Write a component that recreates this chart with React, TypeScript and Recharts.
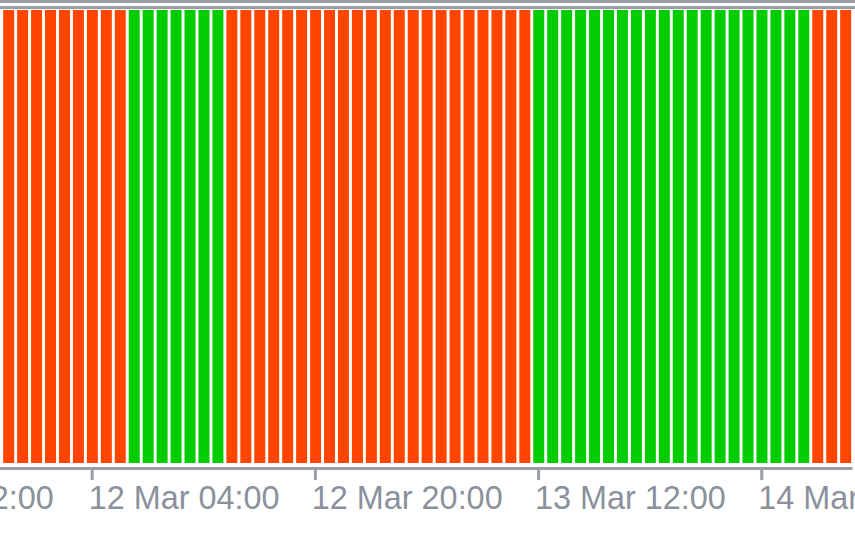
import React from "react";
import { BarChart, Bar, XAxis, YAxis, Cell } from "recharts";

// Hourly categories (the first ten lie left of the visible window; they carry no bar)
const categories = [
  "11 Mar 12:00", "11 Mar 13:00", "11 Mar 14:00", "11 Mar 15:00", "11 Mar 16:00", "11 Mar 17:00",
  "11 Mar 18:00", "11 Mar 19:00", "11 Mar 20:00", "11 Mar 21:00", "11 Mar 22:00", "11 Mar 23:00",
  "12 Mar 00:00", "12 Mar 01:00", "12 Mar 02:00", "12 Mar 03:00", "12 Mar 04:00", "12 Mar 05:00",
  "12 Mar 06:00", "12 Mar 07:00", "12 Mar 08:00", "12 Mar 09:00", "12 Mar 10:00", "12 Mar 11:00",
  "12 Mar 12:00", "12 Mar 13:00", "12 Mar 14:00", "12 Mar 15:00", "12 Mar 16:00", "12 Mar 17:00",
  "12 Mar 18:00", "12 Mar 19:00", "12 Mar 20:00", "12 Mar 21:00", "12 Mar 22:00", "12 Mar 23:00",
  "13 Mar 00:00", "13 Mar 01:00", "13 Mar 02:00", "13 Mar 03:00", "13 Mar 04:00", "13 Mar 05:00",
  "13 Mar 06:00", "13 Mar 07:00", "13 Mar 08:00", "13 Mar 09:00", "13 Mar 10:00", "13 Mar 11:00",
  "13 Mar 12:00", "13 Mar 13:00", "13 Mar 14:00", "13 Mar 15:00", "13 Mar 16:00", "13 Mar 17:00",
  "13 Mar 18:00", "13 Mar 19:00", "13 Mar 20:00", "13 Mar 21:00", "13 Mar 22:00", "13 Mar 23:00",
  "14 Mar 00:00", "14 Mar 01:00", "14 Mar 02:00", "14 Mar 03:00", "14 Mar 04:00", "14 Mar 05:00",
  "14 Mar 06:00", "14 Mar 07:00", "14 Mar 08:00", "14 Mar 09:00", "14 Mar 10:00",
];

// Histogram value per hour (full-height signal bars)
const histogram: (number | null)[] = [
  null, null, null, null, null, null, null, null, null, null,
  1, 1, 1, 1, 1, 1, 1, 1, 1, 1,
  1, 1, 1, 1, 1, 1, 1, 1, 1, 1,
  1, 1, 1, 1, 1, 1, 1, 1, 1, 1,
  1, 1, 1, 1, 1, 1, 1, 1, 1, 1,
  1, 1, 1, 1, 1, 1, 1, 1, 1, 1,
  1, 1, 1, 1, 1, 1, 1, 1, 1, 1,
  1,
];

// Signal direction per hour
const trend: (string | null)[] = [
  null, null, null, null, null, null, null, null, null, null,
  "down", "down", "down", "down", "down", "down", "down", "down", "down",
  "up", "up", "up", "up", "up", "up", "up",
  "down", "down", "down", "down", "down", "down", "down", "down", "down", "down", "down",
  "down", "down", "down", "down", "down", "down", "down", "down", "down", "down", "down",
  "up", "up", "up", "up", "up", "up", "up", "up", "up", "up",
  "up", "up", "up", "up", "up", "up", "up", "up", "up", "up",
  "down", "down", "down",
];

const tickLabels = ["11 Mar 12:00", "12 Mar 04:00", "12 Mar 20:00", "13 Mar 12:00", "14 Mar 04:00"];

const UP = "#00cc00";
const DOWN = "#ff4500";
const GRAY = "#999ea4";
const TEXT = "#8a919c";

const data = categories.map((time, i) => ({ time, value: histogram[i], trend: trend[i] }));

const TimeTick = (props: any) => {
  const { x, y, payload } = props;
  return (
    <text
      x={x - 3.5}
      y={y}
      dy={29.5}
      textAnchor="start"
      fill={TEXT}
      fontSize={32.4}
      fontFamily="'Liberation Sans', Arial, sans-serif"
    >
      {payload.value}
    </text>
  );
};

const OFFSET = 137.6;

export default function App() {
  return (
    <div style={{ position: "absolute", left: 0, top: 0, width: 855, height: 534, overflow: "hidden", background: "#fff" }}>
      <div style={{ position: "absolute", left: -OFFSET, top: 0 }}>
        <BarChart
          width={855 + OFFSET}
          height={534}
          data={data}
          margin={{ top: 10, right: 2.15, left: 0, bottom: 0 }}
          barCategoryGap="12%"
        >
          <YAxis hide domain={[0, 1]} padding={{ top: 0, bottom: 5.5 }} />
          <XAxis
            dataKey="time"
            height={65.5}
            ticks={tickLabels}
            interval={0}
            tickSize={11.5}
            tickMargin={0}
            axisLine={{ stroke: GRAY, strokeWidth: 3 }}
            tickLine={{ stroke: GRAY, strokeWidth: 3 }}
            tick={<TimeTick />}
          />
          <Bar dataKey="value" isAnimationActive={false}>
            {data.map((d, i) => (
              <Cell key={i} fill={d.trend === "up" ? UP : DOWN} />
            ))}
          </Bar>
        </BarChart>
      </div>
      <div style={{ position: "absolute", left: 0, top: 0, width: 855, height: 3, background: GRAY }} />
      <div style={{ position: "absolute", left: 0, top: 6, width: 855, height: 3, background: GRAY }} />
    </div>
  );
}
